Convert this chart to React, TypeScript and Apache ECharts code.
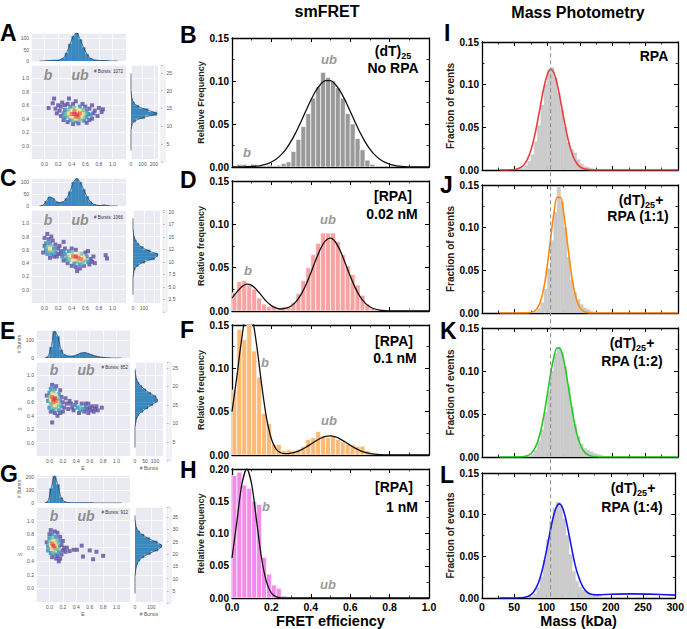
import React, { useEffect, useRef } from "react";
import * as echarts from "echarts";

const FONT = "'Liberation Sans', Arial, Helvetica, sans-serif";

// ---------------- smFRET histograms (B, D, F, H): 40 bins of width 0.025 ----------------
const fretBinWidth = 0.025;
const fretBarsB = [0, 0.003, 0.003, 0, 0.003, 0, 0, 0.002, 0, 0.002, 0.004, 0.006, 0.018, 0.032, 0.047, 0.062, 0.08, 0.093, 0.11, 0.104, 0.1, 0.092, 0.08, 0.062, 0.05, 0.033, 0.02, 0.008, 0.003, 0.001, 0, 0, 0, 0, 0, 0, 0, 0, 0, 0];
const fretBarsD = [0.021, 0.034, 0.035, 0.03, 0.025, 0.015, 0.008, 0.005, 0.006, 0.002, 0.005, 0.005, 0.01, 0.02, 0.035, 0.05, 0.065, 0.078, 0.09, 0.09, 0.09, 0.08, 0.065, 0.052, 0.042, 0.03, 0.018, 0.008, 0.003, 0.002, 0, 0, 0, 0, 0, 0, 0.002, 0, 0, 0];
const fretBarsF = [0.075, 0.145, 0.133, 0.155, 0.12, 0.09, 0.048, 0.036, 0.012, 0.012, 0.005, 0.006, 0.005, 0.006, 0.01, 0.018, 0.02, 0.027, 0.022, 0.02, 0.022, 0.018, 0.015, 0.012, 0.012, 0.01, 0.01, 0.005, 0.002, 0, 0, 0, 0, 0, 0, 0, 0, 0, 0, 0];
const fretBarsH = [0.19, 0.195, 0.175, 0.17, 0.15, 0.145, 0.063, 0.037, 0.02, 0.015, 0.003, 0.002, 0, 0, 0, 0, 0, 0, 0, 0, 0, 0, 0, 0, 0, 0, 0, 0, 0, 0, 0, 0, 0, 0, 0, 0, 0, 0, 0, 0];
// fitted curves sampled every 0.025 from 0 to 1
const fretFitStep = 0.025;
const fretFitB = [0, 0, 0.0001, 0.0003, 0.0006, 0.0011, 0.002, 0.0034, 0.0058, 0.0093, 0.0144, 0.0212, 0.03, 0.0406, 0.0526, 0.0653, 0.0776, 0.0884, 0.0963, 0.1005, 0.1004, 0.096, 0.088, 0.0772, 0.0648, 0.0522, 0.0401, 0.0296, 0.0209, 0.0141, 0.0091, 0.0057, 0.0034, 0.0019, 0.001, 0.0005, 0.0002, 0.0001, 0, 0, 0];
const fretFitD = [0.015, 0.022, 0.028, 0.0309, 0.0296, 0.0246, 0.0177, 0.0111, 0.0062, 0.0033, 0.0023, 0.0032, 0.0058, 0.0108, 0.0189, 0.03, 0.0438, 0.0587, 0.0721, 0.0812, 0.084, 0.0796, 0.0692, 0.0551, 0.0403, 0.027, 0.0166, 0.0094, 0.0049, 0.0023, 0.001, 0.0004, 0.0001, 0, 0, 0, 0, 0, 0, 0, 0];
const fretFitF = [0.05, 0.091, 0.135, 0.162, 0.159, 0.127, 0.082, 0.043, 0.0185, 0.0066, 0.0023, 0.0015, 0.0022, 0.0036, 0.0059, 0.0089, 0.0125, 0.0161, 0.0193, 0.0214, 0.022, 0.0209, 0.0184, 0.015, 0.0113, 0.0079, 0.0051, 0.003, 0.0017, 0.0009, 0.0004, 0.0002, 0.0001, 0, 0, 0, 0, 0, 0, 0, 0];
const fretFitH = [0.062, 0.119, 0.176, 0.2, 0.176, 0.119, 0.062, 0.025, 0.0077, 0.0018, 0.0003, 0, 0, 0, 0, 0, 0, 0, 0, 0, 0, 0, 0, 0, 0, 0, 0, 0, 0, 0, 0, 0, 0, 0, 0, 0, 0, 0, 0, 0, 0];

// ---------------- Mass photometry (I, J, K, L): 5 kDa bins starting at 60 kDa ----------------
const mpBinStart = 60;
const mpBinWidth = 5;
const mpBarsI = [0.002, 0.005, 0.01, 0.018, 0.033, 0.052, 0.076, 0.1, 0.117, 0.12, 0.108, 0.09, 0.07, 0.05, 0.032, 0.024, 0.02, 0.012, 0.007, 0.004, 0.003, 0.002, 0.001, 0, 0];
const mpBarsJ = [0, 0, 0, 0.001, 0.002, 0.005, 0.012, 0.028, 0.052, 0.085, 0.118, 0.148, 0.13, 0.1, 0.065, 0.038, 0.024, 0.016, 0.01, 0.006, 0.004, 0.002, 0.001, 0, 0];
const mpBarsK = [0, 0, 0.001, 0.003, 0.008, 0.018, 0.032, 0.052, 0.076, 0.1, 0.12, 0.127, 0.122, 0.105, 0.082, 0.058, 0.038, 0.024, 0.015, 0.01, 0.008, 0.006, 0.004, 0.003, 0.002];
const mpBarsL = [0, 0, 0.001, 0.002, 0.005, 0.012, 0.025, 0.045, 0.07, 0.092, 0.108, 0.115, 0.11, 0.095, 0.075, 0.052, 0.032, 0.02, 0.013, 0.009, 0.007, 0.005, 0.004, 0.003, 0.002];
const mpFitI = [[27.5, 0], [50, 0.0006], [60, 0.0033], [65, 0.0069], [70, 0.0133], [75, 0.0236], [80, 0.0383], [85, 0.057], [90, 0.0778], [95, 0.0976], [100, 0.112], [105, 0.118], [110, 0.114], [115, 0.101], [120, 0.082], [125, 0.0611], [130, 0.0418], [135, 0.0262], [140, 0.015], [145, 0.0079], [150, 0.0038], [155, 0.0017], [160, 0.0007], [170, 0], [300, 0]];
const mpFitJ = [[27.5, 0], [70, 0.0002], [80, 0.0022], [85, 0.006], [90, 0.0147], [95, 0.0308], [100, 0.0558], [105, 0.087], [110, 0.117], [115, 0.1355], [120, 0.1355], [125, 0.117], [130, 0.087], [135, 0.0558], [140, 0.0308], [145, 0.0147], [150, 0.006], [155, 0.0022], [160, 0.0007], [170, 0], [300, 0]];
const mpFitK = [[27.5, 0], [60, 0.0002], [70, 0.0017], [75, 0.0041], [80, 0.0089], [85, 0.0173], [90, 0.0308], [95, 0.0497], [100, 0.0728], [105, 0.0966], [110, 0.1163], [115, 0.127], [120, 0.1258], [125, 0.113], [130, 0.092], [135, 0.068], [140, 0.0456], [145, 0.0277], [150, 0.0153], [155, 0.0076], [160, 0.0035], [165, 0.0014], [170, 0.0005], [180, 0], [300, 0]];
const mpFitL = [[27.5, 0], [60, 0.0003], [70, 0.0016], [75, 0.0034], [80, 0.0073], [85, 0.0136], [90, 0.0238], [95, 0.0383], [100, 0.0565], [105, 0.0766], [110, 0.095], [115, 0.1083], [120, 0.113], [125, 0.1083], [130, 0.095], [135, 0.0766], [140, 0.0565], [145, 0.0383], [150, 0.0256], [155, 0.0157], [160, 0.0095], [165, 0.006], [170, 0.0045], [180, 0.0038], [200, 0.0045], [230, 0.005], [260, 0.0046], [300, 0.0034]];
const mpRefMass = 105;

// ---------------- ALEX joint plots (A, C, E, G): marginal bins of 0.05 starting at -0.1 ----------------
const margStart = -0.1;
const margWidth = 0.05;
const topHistA = [0, 0, 1, 2, 3, 3, 5, 12, 35, 75, 110, 124, 95, 60, 30, 12, 5, 3, 2, 2, 1, 0, 0, 0];
const rightHistA = [0, 0, 0, 0, 0, 0, 0, 3, 10, 40, 120, 225, 150, 70, 30, 12, 5, 2, 0, 0, 0, 0, 0, 0];
const topHistC = [0, 3, 20, 38, 32, 18, 14, 18, 32, 60, 100, 115, 100, 70, 40, 18, 7, 3, 2, 4, 2, 0, 0, 0];
const rightHistC = [0, 0, 0, 0, 0, 0, 3, 8, 20, 50, 110, 200, 230, 160, 95, 55, 30, 15, 6, 2, 0, 0, 0, 0];
const topHistE = [0, 6, 60, 148, 120, 45, 18, 11, 10, 12, 20, 28, 30, 25, 18, 12, 7, 4, 2, 1, 0, 0, 0, 0];
const rightHistE = [0, 0, 0, 0, 0, 0, 0, 2, 5, 10, 20, 40, 65, 90, 112, 105, 80, 55, 35, 20, 10, 5, 2, 1];
const topHistG = [0, 10, 110, 205, 140, 40, 10, 3, 1, 1, 1, 1, 1, 1, 1, 0, 0, 0, 0, 0, 0, 0, 0, 0];
const rightHistG = [0, 0, 0, 0, 0, 0, 2, 4, 8, 15, 30, 55, 95, 140, 162, 135, 90, 55, 28, 12, 5, 2, 0, 0];

// [E, S, density level 1..6]
const scatterA = [
  [0.44, 0.47, 6], [0.48, 0.46, 6],
  [0.4, 0.47, 5], [0.52, 0.48, 5], [0.46, 0.43, 5], [0.44, 0.51, 5], [0.5, 0.43, 5],
  [0.36, 0.48, 4], [0.56, 0.47, 4], [0.4, 0.51, 4], [0.52, 0.52, 4], [0.4, 0.43, 4], [0.54, 0.43, 4], [0.48, 0.54, 4], [0.46, 0.4, 4],
  [0.32, 0.47, 3], [0.6, 0.48, 3], [0.36, 0.53, 3], [0.56, 0.53, 3], [0.34, 0.43, 3], [0.58, 0.43, 3], [0.44, 0.56, 3], [0.5, 0.39, 3], [0.42, 0.38, 3], [0.54, 0.39, 3],
  [0.28, 0.48, 2], [0.64, 0.47, 2], [0.3, 0.53, 2], [0.62, 0.52, 2], [0.3, 0.42, 2], [0.62, 0.42, 2], [0.38, 0.58, 2], [0.52, 0.58, 2], [0.38, 0.38, 2], [0.58, 0.37, 2], [0.46, 0.36, 2], [0.68, 0.46, 2],
  [0.06, 0.56, 1], [0.12, 0.63, 1], [0.16, 0.55, 1], [0.2, 0.6, 1], [0.18, 0.48, 1], [0.22, 0.52, 1], [0.24, 0.44, 1], [0.24, 0.58, 1], [0.26, 0.64, 1], [0.3, 0.6, 1], [0.28, 0.38, 1], [0.34, 0.35, 1], [0.34, 0.62, 1], [0.42, 0.62, 1], [0.46, 0.66, 1], [0.56, 0.62, 1], [0.6, 0.58, 1], [0.66, 0.55, 1], [0.7, 0.4, 1], [0.72, 0.48, 1], [0.74, 0.52, 1], [0.78, 0.44, 1], [0.8, 0.56, 1], [0.84, 0.5, 1], [0.86, 0.54, 1], [0.66, 0.38, 1], [0.5, 0.33, 1], [0.42, 0.32, 1], [0.62, 0.34, 1], [0.14, 0.7, 1], [0.36, 0.7, 1], [0.7, 0.6, 1],
];
const scatterC = [
  [0.08, 0.62, 4], [0.04, 0.64, 3], [0.1, 0.66, 3], [0.12, 0.58, 3], [0.06, 0.58, 3],
  [0.02, 0.7, 2], [0.08, 0.7, 2], [0.14, 0.62, 2], [0.02, 0.6, 2], [0.1, 0.54, 2], [0.16, 0.56, 2], [0.04, 0.54, 2],
  [0, 0.78, 1], [0.04, 0.84, 1], [0.06, 0.76, 1], [0.12, 0.74, 1], [0.16, 0.68, 1], [0.2, 0.62, 1], [0.2, 0.54, 1], [0.18, 0.5, 1], [0.14, 0.5, 1], [0, 0.66, 1], [-0.02, 0.56, 1], [0.08, 0.48, 1], [0.24, 0.58, 1], [0.22, 0.66, 1], [0.1, 0.8, 1], [0.28, 0.72, 1], [0.3, 0.62, 1],
  [0.46, 0.5, 6], [0.42, 0.5, 5], [0.5, 0.48, 5], [0.54, 0.46, 5],
  [0.38, 0.52, 4], [0.46, 0.46, 4], [0.5, 0.53, 4], [0.58, 0.48, 4], [0.42, 0.45, 4],
  [0.34, 0.5, 3], [0.4, 0.56, 3], [0.54, 0.54, 3], [0.6, 0.44, 3], [0.36, 0.45, 3], [0.48, 0.42, 3], [0.56, 0.4, 3],
  [0.3, 0.53, 2], [0.32, 0.46, 2], [0.36, 0.58, 2], [0.44, 0.4, 2], [0.62, 0.5, 2], [0.64, 0.42, 2], [0.52, 0.38, 2], [0.28, 0.58, 2], [0.26, 0.5, 2],
  [0.24, 0.54, 1], [0.28, 0.44, 1], [0.34, 0.4, 1], [0.4, 0.36, 1], [0.46, 0.34, 1], [0.52, 0.32, 1], [0.58, 0.36, 1], [0.66, 0.38, 1], [0.68, 0.46, 1], [0.7, 0.42, 1], [0.72, 0.5, 1], [0.6, 0.56, 1], [0.46, 0.6, 1], [0.4, 0.62, 1], [0.48, 0.28, 1], [0.9, 0.52, 1], [0.92, 0.47, 1], [0.64, 0.58, 1], [0.74, 0.4, 1],
];
const scatterE = [
  [0.06, 0.64, 6], [0.08, 0.66, 6],
  [0.04, 0.68, 5], [0.1, 0.62, 5], [0.06, 0.6, 5],
  [0.02, 0.64, 4], [0.04, 0.72, 4], [0.1, 0.7, 4], [0.12, 0.6, 4], [0.08, 0.56, 4],
  [0, 0.68, 3], [0.02, 0.58, 3], [0.06, 0.76, 3], [0.12, 0.66, 3], [0.14, 0.56, 3], [0.04, 0.54, 3], [0.1, 0.52, 3],
  [-0.02, 0.62, 2], [0, 0.74, 2], [0.02, 0.8, 2], [0.08, 0.8, 2], [0.14, 0.72, 2], [0.16, 0.62, 2], [0, 0.52, 2], [0.06, 0.48, 2], [0.14, 0.48, 2], [0.18, 0.54, 2],
  [-0.04, 0.7, 1], [0.04, 0.86, 1], [0.1, 0.84, 1], [0.18, 0.68, 1], [0.2, 0.6, 1], [0.22, 0.52, 1], [0.16, 0.44, 1], [0.08, 0.44, 1], [0.02, 0.46, 1], [0.04, 0.3, 1], [0.12, 0.4, 1], [0.24, 0.66, 1], [0.26, 0.58, 1], [0.2, 0.46, 1], [0.28, 0.5, 1], [0.16, 0.78, 1],
  [0.46, 0.52, 3], [0.42, 0.52, 2], [0.5, 0.5, 2], [0.46, 0.48, 2], [0.54, 0.54, 2], [0.38, 0.56, 2],
  [0.32, 0.58, 1], [0.34, 0.52, 1], [0.36, 0.48, 1], [0.4, 0.6, 1], [0.44, 0.44, 1], [0.48, 0.58, 1], [0.52, 0.46, 1], [0.56, 0.5, 1], [0.58, 0.44, 1], [0.6, 0.52, 1], [0.62, 0.48, 1], [0.64, 0.54, 1], [0.66, 0.46, 1], [0.68, 0.5, 1], [0.72, 0.48, 1], [0.78, 0.52, 1], [0.3, 0.62, 1], [0.7, 0.54, 1], [0.54, 0.58, 1], [0.58, 0.58, 1],
];
const scatterG = [
  [0.06, 0.63, 6], [0.04, 0.66, 5], [0.08, 0.6, 5],
  [0.02, 0.64, 4], [0.06, 0.7, 4], [0.1, 0.62, 4], [0.04, 0.58, 4], [0.08, 0.66, 4],
  [0, 0.68, 3], [0.02, 0.58, 3], [0.04, 0.74, 3], [0.1, 0.7, 3], [0.12, 0.58, 3], [0.06, 0.54, 3], [0.12, 0.66, 3],
  [-0.02, 0.62, 2], [0, 0.74, 2], [0.04, 0.8, 2], [0.1, 0.76, 2], [0.14, 0.62, 2], [0.14, 0.54, 2], [0.02, 0.52, 2], [0.08, 0.5, 2], [0.16, 0.7, 2], [-0.02, 0.56, 2],
  [0.02, 0.86, 1], [0.08, 0.84, 1], [0.12, 0.82, 1], [0.16, 0.76, 1], [0.18, 0.64, 1], [0.2, 0.56, 1], [0.18, 0.5, 1], [0.12, 0.48, 1], [0.04, 0.46, 1], [0.1, 0.44, 1], [0.16, 0.44, 1], [0.22, 0.6, 1], [-0.04, 0.68, 1], [0, 0.8, 1], [0.2, 0.7, 1], [0.24, 0.54, 1], [0.14, 0.4, 1],
  [0.36, 0.57, 1], [0.41, 0.57, 1], [0.48, 0.63, 1], [0.5, 0.47, 1], [0.6, 0.56, 1], [0.65, 0.43, 1], [0.7, 0.54, 1], [0.8, 0.48, 1], [0.3, 0.55, 1], [0.26, 0.6, 1],
];

const LEVEL_COLORS = ["", "#5E4FA2", "#3288BD", "#66C2A5", "#FEE08B", "#F46D43", "#D53E4F"];
const BG = "#EAEAF2";

function buildOption() {
  const grids: any[] = [];
  const xAxes: any[] = [];
  const yAxes: any[] = [];
  const series: any[] = [];
  const graphics: any[] = [];

  const boldLbl = (size: number) => ({ fontSize: size, fontWeight: "bold", fontFamily: FONT, color: "#000" });
  const frameLine = { show: true, onZero: false, lineStyle: { color: "#000", width: 1.3 } };
  const tickIn = { show: true, inside: true, length: 4, lineStyle: { color: "#000", width: 1 } };
  const minorIn = { show: true, splitNumber: 2, length: 2.5, lineStyle: { color: "#000", width: 0.8 } };

  const histSeries = (xi: number, yi: number, bins: number[], start: number, width: number, fill: string, stroke: string | null, lw: number, horizontal: boolean) => ({
    type: "custom",
    xAxisIndex: xi,
    yAxisIndex: yi,
    clip: true,
    silent: true,
    data: bins.map((v, i) => [start + i * width, start + (i + 1) * width, v]),
    encode: horizontal ? { x: 2, y: [0, 1] } : { x: [0, 1], y: 2 },
    renderItem: (params: any, api: any) => {
      const a = api.value(0);
      const b = api.value(1);
      const v = api.value(2);
      if (!(v > 0)) return null;
      let p0: number[];
      let p1: number[];
      if (horizontal) {
        p0 = api.coord([0, b]);
        p1 = api.coord([v, a]);
      } else {
        p0 = api.coord([a, v]);
        p1 = api.coord([b, 0]);
      }
      return {
        type: "rect",
        shape: { x: p0[0], y: p0[1], width: p1[0] - p0[0], height: p1[1] - p0[1] },
        style: { fill, stroke: stroke ?? fill, lineWidth: lw },
      };
    },
  });

  // ---------- framed panels ----------
  function framedPanel(cfg: any) {
    const gi = grids.length;
    grids.push({ left: cfg.left, top: cfg.top, width: cfg.width, height: cfg.height });
    const xBase = {
      gridIndex: gi, type: "value", min: cfg.xmin, max: cfg.xmax, interval: cfg.xint,
      axisLine: frameLine, axisTick: tickIn, minorTick: minorIn, splitLine: { show: false },
    };
    const xi = xAxes.length;
    xAxes.push({
      ...xBase, position: "bottom",
      axisLabel: cfg.showX ? { ...boldLbl(10.5), margin: 3, formatter: cfg.xfmt } : { show: false },
      name: cfg.showX ? cfg.xName : "", nameLocation: "middle", nameGap: 15,
      nameTextStyle: { ...boldLbl(14.5), verticalAlign: "top" },
    });
    xAxes.push({ ...xBase, position: "top", axisLabel: { show: false } });
    const yBase = {
      gridIndex: gi, type: "value", min: 0, max: cfg.ymax, interval: 0.05,
      axisLine: frameLine, axisTick: tickIn, minorTick: minorIn, splitLine: { show: false },
    };
    const yi = yAxes.length;
    yAxes.push({
      ...yBase, position: "left",
      axisLabel: { ...boldLbl(10), margin: 3, formatter: (v: number) => v.toFixed(2) },
      name: cfg.yName, nameLocation: "middle", nameGap: cfg.yNameGap,
      nameTextStyle: { ...boldLbl(cfg.yNameSize), color: "#222" },
    });
    yAxes.push({ ...yBase, position: "right", axisLabel: { show: false } });
    return { xi, yi };
  }

  const fretCfgs = [
    { top: 38, height: 129, ymax: 0.15, bars: fretBarsB, fit: fretFitB, color: "#999999", yName: "Relative Frequency", showX: false },
    { top: 181, height: 130, ymax: 0.15, bars: fretBarsD, fit: fretFitD, color: "#F7A3A1", yName: "Relative frequency", showX: false },
    { top: 325, height: 130, ymax: 0.15, bars: fretBarsF, fit: fretFitF, color: "#FBBA76", yName: "Relative frequency", showX: false },
    { top: 469, height: 130, ymax: 0.2, bars: fretBarsH, fit: fretFitH, color: "#F28CE9", yName: "Relative frequency", showX: true },
  ];
  fretCfgs.forEach((c) => {
    const { xi, yi } = framedPanel({
      left: 232, top: c.top, width: 197, height: c.height, xmin: 0, xmax: 1, xint: 0.2, ymax: c.ymax,
      showX: c.showX, xName: "FRET efficiency", xfmt: (v: number) => v.toFixed(1),
      yName: c.yName, yNameGap: 23, yNameSize: 9,
    });
    series.push(histSeries(xi, yi, c.bars, 0, fretBinWidth, c.color, "#ffffff", 0.6, false));
    series.push({
      type: "line", xAxisIndex: xi, yAxisIndex: yi, clip: true, silent: true,
      data: c.fit.map((v, i) => [i * fretFitStep, v]), smooth: 0.3, showSymbol: false,
      lineStyle: { color: "#111", width: 1.3 },
    });
  });

  const mpCfgs = [
    { top: 42, height: 128, bars: mpBarsI, fit: mpFitI, color: "#F23B3B", showX: false },
    { top: 185, height: 128, bars: mpBarsJ, fit: mpFitJ, color: "#FF8A0A", showX: false },
    { top: 328, height: 129, bars: mpBarsK, fit: mpFitK, color: "#27C927", showX: false },
    { top: 473, height: 130, bars: mpBarsL, fit: mpFitL, color: "#1717EE", showX: true },
  ];
  const mpIdx: { xi: number; yi: number }[] = [];
  mpCfgs.forEach((c) => {
    const idx = framedPanel({
      left: 482, top: c.top, width: 196, height: c.height, xmin: 0, xmax: 300, xint: 50, ymax: 0.15,
      showX: c.showX, xName: "Mass (kDa)", xfmt: (v: number) => String(v),
      yName: "Fraction of events", yNameGap: 25, yNameSize: 10,
    });
    mpIdx.push(idx);
    series.push(histSeries(idx.xi, idx.yi, c.bars, mpBinStart, mpBinWidth, "#CBCBCB", null, 0.5, false));
    series.push({
      type: "line", xAxisIndex: idx.xi, yAxisIndex: idx.yi, clip: true, silent: true,
      data: c.fit, smooth: 0.3, showSymbol: false,
      lineStyle: { color: c.color, width: 1.6 },
    });
  });

  // ---------- joint plots ----------
  const smallLbl = { fontSize: 5, color: "#555", fontFamily: FONT, margin: 2 };
  const softAxis = {
    axisLine: { show: false }, axisTick: { show: false },
    splitLine: { show: true, lineStyle: { color: "#ffffff", width: 0.7 } },
  };
  const efmt = (v: number) => (v < -0.05 || v > 1.05 ? "" : Math.abs(v) < 1e-9 ? "0.0" : v.toFixed(1));
  const onStep = (v: number, step: number) => Math.abs(v / step - Math.round(v / step)) < 1e-6;

  function jointPanel(c: any) {
    // top marginal
    const gT = grids.length;
    grids.push({ left: c.mainL, top: c.topT, width: c.mainW, height: c.topH, show: true, backgroundColor: BG, borderWidth: 0 });
    const xT = xAxes.length;
    xAxes.push({ gridIndex: gT, type: "value", min: -0.2, max: 1.2, interval: 0.2, ...softAxis, axisLabel: { show: false } });
    const yT = yAxes.length;
    yAxes.push({
      gridIndex: gT, type: "value", min: 0, max: c.topMax, interval: c.topInt, ...softAxis,
      axisLabel: { ...smallLbl, formatter: (v: number) => (onStep(v, c.topInt) ? String(v) : "") },
      name: c.names ? "# Bursts" : "", nameLocation: "middle", nameGap: 14,
      nameTextStyle: { fontSize: 5, color: "#555", fontFamily: FONT },
    });
    series.push(histSeries(xT, yT, c.topHist, margStart, margWidth, "#3A88BE", null, 0.4, false));
    series.push({
      type: "line", xAxisIndex: xT, yAxisIndex: yT, silent: true, clip: true, smooth: 0.3, showSymbol: false,
      data: c.topHist.map((v: number, i: number) => [margStart + (i + 0.5) * margWidth, v]),
      lineStyle: { color: "#1E3A5A", width: 0.7 },
    });

    // main scatter
    const gM = grids.length;
    grids.push({ left: c.mainL, top: c.mainT, width: c.mainW, height: c.mainH, show: true, backgroundColor: BG, borderWidth: 0 });
    const xM = xAxes.length;
    xAxes.push({
      gridIndex: gM, type: "value", min: -0.2, max: 1.2, interval: 0.2, ...softAxis,
      axisLabel: { ...smallLbl, formatter: efmt },
      name: c.names ? "E" : "", nameLocation: "middle", nameGap: 9,
      nameTextStyle: { fontSize: 5, color: "#555", fontFamily: FONT },
    });
    const yM = yAxes.length;
    yAxes.push({
      gridIndex: gM, type: "value", min: -0.2, max: 1.2, interval: 0.2, ...softAxis,
      axisLabel: { ...smallLbl, formatter: efmt },
      name: c.names ? "S" : "", nameLocation: "middle", nameGap: 14,
      nameTextStyle: { fontSize: 5, color: "#555", fontFamily: FONT },
    });
    const pts = c.pts.slice().sort((a: number[], b: number[]) => a[2] - b[2]);
    series.push({
      type: "scatter", xAxisIndex: xM, yAxisIndex: yM, silent: true, symbol: "rect", symbolSize: 4,
      data: pts, itemStyle: { color: (p: any) => LEVEL_COLORS[p.data[2]] },
    });

    // right marginal
    const gR = grids.length;
    grids.push({ left: c.rightL, top: c.mainT, width: c.rightW, height: c.mainH, show: true, backgroundColor: BG, borderWidth: 0 });
    const xR = xAxes.length;
    xAxes.push({
      gridIndex: gR, type: "value", min: 0, max: c.rightMax, interval: c.rightInt, ...softAxis,
      axisLabel: { ...smallLbl, formatter: (v: number) => (onStep(v, c.rightInt) && v <= c.rightLabelMax ? String(v) : "") },
      name: c.names ? "# Bursts" : "", nameLocation: "middle", nameGap: 9,
      nameTextStyle: { fontSize: 5, color: "#555", fontFamily: FONT },
    });
    const yR = yAxes.length;
    yAxes.push({ gridIndex: gR, type: "value", min: -0.2, max: 1.2, interval: 0.2, ...softAxis, axisLabel: { show: false } });
    series.push(histSeries(xR, yR, c.rightHist, margStart, margWidth, "#3A88BE", null, 0.4, true));
    series.push({
      type: "line", xAxisIndex: xR, yAxisIndex: yR, silent: true, clip: true, smooth: 0.3, showSymbol: false,
      data: c.rightHist.map((v: number, i: number) => [v, margStart + (i + 0.5) * margWidth]),
      lineStyle: { color: "#1E3A5A", width: 0.7 },
    });

    // colour-bar strip
    const gC = grids.length;
    grids.push({ left: c.cbarL, top: c.mainT, width: 4, height: c.cbarH, show: true, backgroundColor: "#F3F3F8", borderColor: "#D8D8E2", borderWidth: 0.5 });
    xAxes.push({ gridIndex: gC, type: "value", min: 0, max: 1, show: false });
    yAxes.push({
      gridIndex: gC, type: "value", min: 0, max: c.cbarMax, interval: c.cbarInt, position: "right",
      axisLine: { show: false }, splitLine: { show: false },
      axisTick: { show: true, length: 1.5, lineStyle: { color: "#777", width: 0.5 } },
      axisLabel: { ...smallLbl, margin: 1.5, formatter: (v: number) => (v > 0 && onStep(v, c.cbarInt) ? c.cbarFmt(v) : "") },
    });
  }

  const intFmt = (v: number) => String(Math.round(v));
  const cbarFmtC = (v: number) => (v >= 10 ? String(Math.floor(v)) : v.toFixed(1));
  jointPanel({ mainL: 31, mainT: 65, mainW: 95, mainH: 94, topT: 33, topH: 28, rightL: 131, rightW: 27, cbarL: 161, topMax: 124, topInt: 50, rightMax: 235, rightInt: 100, rightLabelMax: 1000, cbarH: 96.75, cbarMax: 27.25, cbarInt: 5, cbarFmt: intFmt, topHist: topHistA, rightHist: rightHistA, pts: scatterA, names: false });
  jointPanel({ mainL: 31, mainT: 210, mainW: 95, mainH: 93, topT: 178, topH: 28, rightL: 133, rightW: 27, cbarL: 163, topMax: 118, topInt: 50, rightMax: 250, rightInt: 100, rightLabelMax: 150, cbarH: 101.8, cbarMax: 20.36, cbarInt: 2.5, cbarFmt: cbarFmtC, topHist: topHistC, rightHist: rightHistC, pts: scatterC, names: false });
  jointPanel({ mainL: 36, mainT: 362, mainW: 94, mainH: 94, topT: 330, topH: 28, rightL: 135, rightW: 28, cbarL: 167, topMax: 156, topInt: 100, rightMax: 140, rightInt: 50, rightLabelMax: 1000, cbarH: 98.5, cbarMax: 26.6, cbarInt: 5, cbarFmt: intFmt, topHist: topHistE, rightHist: rightHistE, pts: scatterE, names: true });
  jointPanel({ mainL: 36, mainT: 507, mainW: 94, mainH: 95, topT: 475, topH: 28, rightL: 135, rightW: 28, cbarL: 167, topMax: 214, topInt: 100, rightMax: 170, rightInt: 100, rightLabelMax: 1000, cbarH: 96.3, cbarMax: 39, cbarInt: 5, cbarFmt: intFmt, topHist: topHistG, rightHist: rightHistG, pts: scatterG, names: true });

  // ---------- texts ----------
  const txt = (x: number, y: number, text: string, o: any = {}) => ({
    type: "text", x, y, silent: true, z: 100,
    style: {
      text, fontSize: o.size ?? 14, fontWeight: o.weight ?? "bold", fontStyle: o.italic ? "italic" : "normal",
      fontFamily: FONT, fill: o.fill ?? "#000",
      textAlign: o.align ?? "center", align: o.align ?? "center",
      textVerticalAlign: "middle", verticalAlign: "middle",
      lineHeight: o.lineHeight, rich: o.rich,
    },
  });
  const subRich = { s: { fontSize: 9, fontWeight: "bold", fontFamily: FONT, fill: "#000", verticalAlign: "bottom", lineHeight: 9 } };

  graphics.push(txt(327, 11, "smFRET", { size: 16 }));
  graphics.push(txt(578, 12, "Mass Photometry", { size: 16 }));

  const letters: [string, number, number][] = [
    ["A", 0, 33], ["C", 0, 178], ["E", 0, 331], ["G", 0, 474],
    ["B", 180, 35], ["D", 180, 180], ["F", 180, 330], ["H", 180, 470],
    ["I", 444, 33], ["J", 440, 185], ["K", 440, 331], ["L", 440, 475],
  ];
  letters.forEach(([t, x, y]) => graphics.push(txt(x, y, t, { size: 23, align: "left" })));

  // smFRET annotations
  graphics.push(txt(393, 51, "(dT){s|25}", { lineHeight: 18, rich: subRich }));
  graphics.push(txt(393, 68, "No RPA"));
  graphics.push(txt(393, 196, "[RPA]"));
  graphics.push(txt(392, 214, "0.02 nM"));
  graphics.push(txt(394, 341, "[RPA]"));
  graphics.push(txt(395, 358, "0.1 nM"));
  graphics.push(txt(394, 487, "[RPA]"));
  graphics.push(txt(402, 507, "1 nM"));
  // MP annotations
  graphics.push(txt(654, 56, "RPA"));
  graphics.push(txt(641, 200, "(dT){s|25}+", { lineHeight: 18, rich: subRich }));
  graphics.push(txt(638, 216, "RPA (1:1)"));
  graphics.push(txt(632, 343, "(dT){s|25}+", { lineHeight: 18, rich: subRich }));
  graphics.push(txt(632, 361, "RPA (1:2)"));
  graphics.push(txt(633, 488, "(dT){s|25}+", { lineHeight: 18, rich: subRich }));
  graphics.push(txt(632, 507, "RPA (1:4)"));

  // b / ub state labels
  const gray = { size: 13, italic: true, fill: "#9A9A9A" };
  const stateLbls: [string, number, number][] = [
    ["ub", 329, 59], ["b", 247, 152],
    ["b", 248, 270], ["ub", 328, 219],
    ["b", 265, 362], ["ub", 329, 420],
    ["b", 266, 506], ["ub", 328, 584],
  ];
  stateLbls.forEach(([t, x, y]) => graphics.push(txt(x, y, t, gray)));
  const grayL = { size: 14, italic: true, fill: "#8E8E8E" };
  const leftStates: [string, number, number][] = [
    ["b", 48, 75], ["ub", 80, 75], ["b", 48, 220], ["ub", 80, 220],
    ["b", 54, 370], ["ub", 86, 370], ["b", 54, 516], ["ub", 86, 516],
  ];
  leftStates.forEach(([t, x, y]) => graphics.push(txt(x, y, t, grayL)));
  const bursts: [string, number, number][] = [
    ["# Bursts: 1072", 123, 71], ["# Bursts: 1066", 123, 217], ["# Bursts: 852", 128, 367], ["# Bursts: 912", 128, 512],
  ];
  bursts.forEach(([t, x, y]) => graphics.push(txt(x, y, t, { size: 4.5, weight: "normal", fill: "#333", align: "right" })));

  return {
    option: {
      animation: false,
      backgroundColor: "#ffffff",
      textStyle: { fontFamily: FONT },
      grid: grids,
      xAxis: xAxes,
      yAxis: yAxes,
      series,
      graphic: { elements: graphics },
    },
    mpIdx,
  };
}

export default function App() {
  const ref = useRef<HTMLDivElement>(null);
  useEffect(() => {
    document.body.style.margin = "0";
    const chart = echarts.init(ref.current!, undefined, { renderer: "svg" });
    const { option, mpIdx } = buildOption();
    chart.setOption(option);
    const first = mpIdx[0];
    const last = mpIdx[mpIdx.length - 1];
    const px = chart.convertToPixel({ xAxisIndex: first.xi } as any, mpRefMass) as unknown as number;
    const yTop = chart.convertToPixel({ yAxisIndex: first.yi } as any, 0.145) as unknown as number;
    const yBot = chart.convertToPixel({ yAxisIndex: last.yi } as any, 0) as unknown as number;
    chart.setOption({
      graphic: {
        elements: [
          {
            id: "refMassLine", type: "line", silent: true, z: 50,
            shape: { x1: px, y1: yTop, x2: px, y2: yBot },
            style: { stroke: "#8A8A8A", lineWidth: 1, lineDash: [4, 3] },
          },
        ],
      },
    });
    return () => chart.dispose();
  }, []);
  return <div ref={ref} style={{ position: "absolute", left: 0, top: 0, width: 687, height: 629 }} />;
}
